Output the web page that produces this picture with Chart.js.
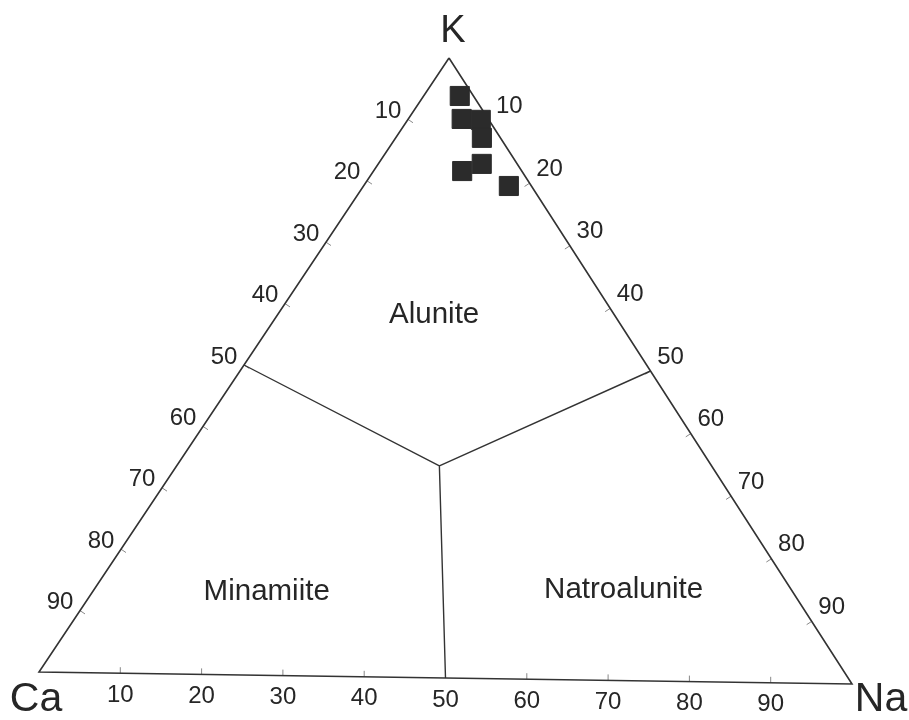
<!DOCTYPE html>
<html>
<head>
<meta charset="utf-8">
<script src="https://cdn.jsdelivr.net/npm/chart.js@4.4.0/dist/chart.umd.min.js"></script>
<style>
html,body{margin:0;padding:0;background:#fff;}
#wrap{width:909px;height:720px;position:relative;}
</style>
</head>
<body>
<div id="wrap"><canvas id="c"></canvas></div>
<script>
// ---- data (percent compositions: Ca, Na, K) ----
const cornerLabels = ['K', 'Ca', 'Na'];
const tickValues = [10, 20, 30, 40, 50, 60, 70, 80, 90];
const tickLabels = ['10', '20', '30', '40', '50', '60', '70', '80', '90'];
const sampleK  = [93.9, 90.2, 90.1, 87.2, 81.8, 83.0, 79.5];
const sampleNa = [4.4, 6.5, 8.9, 10.5, 10.8, 12.6, 17.7];
const sampleCa = [1.7, 3.3, 1.0, 2.3, 7.4, 4.4, 2.8];
// field boundaries: junction and the three edge ends
const junctionCa = 33.8, junctionNa = 32.0, junctionK = 34.2;
const boundaryEndsCa = [50, 0, 50];
const boundaryEndsNa = [0, 50, 50];
const boundaryEndsK  = [50, 50, 0];
const fieldNames = ['Alunite', 'Minamiite', 'Natroalunite'];
const fieldCa = [22.4, 65.3, 20.8];
const fieldNa = [19.1, 21.2, 64.5];
const fieldK  = [58.5, 13.5, 14.7];

// ---- layout (vertex placement in the drawing frame) ----
const VK = {x: 449, y: 58}, VCa = {x: 39, y: 672}, VNa = {x: 852, y: 684};
function toXY(ca, na, k) {
  const s = ca + na + k;
  return {
    x: (ca * VCa.x + na * VNa.x + k * VK.x) / s,
    y: (ca * VCa.y + na * VNa.y + k * VK.y) / s
  };
}

const samplePts = sampleK.map((k, i) => toXY(sampleCa[i], sampleNa[i], k));
const triangle = [toXY(0, 0, 100), toXY(100, 0, 0), toXY(0, 100, 0), toXY(0, 0, 100)];
const junction = toXY(junctionCa, junctionNa, junctionK);
const boundaryData = [];
boundaryEndsK.forEach((k, i) => {
  boundaryData.push(toXY(boundaryEndsCa[i], boundaryEndsNa[i], k));
  boundaryData.push(junction);
  boundaryData.push({x: null, y: null});
});

function unit(dx, dy) { const l = Math.hypot(dx, dy); return {x: dx / l, y: dy / l}; }
const edges = [
  {comp: v => [v, 0, 100 - v], n: unit(VCa.y - VK.y, -(VCa.x - VK.x)), off: {x: -20, y: -8}},
  {comp: v => [0, v, 100 - v], n: unit(-(VNa.y - VK.y), VNa.x - VK.x), off: {x: 20, y: -14}},
  {comp: v => [100 - v, v, 0], n: {x: 0, y: -1}, off: {x: 0, y: 22}}
];
const tickData = [];
const tickTexts = [];
edges.forEach(e => {
  tickValues.forEach((v, i) => {
    const c = e.comp(v);
    const p = toXY(c[0], c[1], c[2]);
    tickData.push(p);
    tickData.push({x: p.x + e.n.x * 6, y: p.y + e.n.y * 6});
    tickData.push({x: null, y: null});
    tickTexts.push({x: p.x + e.off.x, y: p.y + e.off.y, t: tickLabels[i]});
  });
});

const textPlugin = {
  id: 'ternaryText',
  afterDatasetsDraw(chart) {
    const ctx = chart.ctx, xs = chart.scales.x, ys = chart.scales.y;
    ctx.save();
    ctx.fillStyle = '#262626';
    ctx.textAlign = 'center';
    ctx.textBaseline = 'middle';
    ctx.font = '24px "Liberation Sans", Arial, sans-serif';
    tickTexts.forEach(t => ctx.fillText(t.t, xs.getPixelForValue(t.x), ys.getPixelForValue(t.y)));
    ctx.font = '29.5px "Liberation Sans", Arial, sans-serif';
    fieldNames.forEach((n, i) => {
      const p = toXY(fieldCa[i], fieldNa[i], fieldK[i]);
      ctx.fillText(n, xs.getPixelForValue(p.x), ys.getPixelForValue(p.y));
    });
    ctx.font = '38px "Liberation Sans", Arial, sans-serif';
    const kp = toXY(0, 0, 100), cp = toXY(100, 0, 0), np = toXY(0, 100, 0);
    ctx.fillText(cornerLabels[0], xs.getPixelForValue(kp.x + 4), ys.getPixelForValue(kp.y - 26));
    ctx.font = '41px "Liberation Sans", Arial, sans-serif';
    ctx.fillText(cornerLabels[1], xs.getPixelForValue(cp.x - 3), ys.getPixelForValue(cp.y + 28));
    ctx.fillText(cornerLabels[2], xs.getPixelForValue(np.x + 29), ys.getPixelForValue(np.y + 16));
    ctx.restore();
  }
};

new Chart(document.getElementById('c'), {
  type: 'scatter',
  data: {
    datasets: [
      {label: 'edges', data: triangle, showLine: true, borderColor: '#333', borderWidth: 1.6, pointRadius: 0, fill: false, order: 3},
      {label: 'boundaries', data: boundaryData, showLine: true, spanGaps: false, borderColor: '#333', borderWidth: 1.4, pointRadius: 0, order: 3},
      {label: 'ticks', data: tickData, showLine: true, spanGaps: false, borderColor: '#888', borderWidth: 1, pointRadius: 0, order: 3},
      {label: 'samples', data: samplePts, showLine: false, pointStyle: 'rect', pointRadius: 13.5, pointHoverRadius: 13.5,
       backgroundColor: '#2b2b2b', borderColor: '#2b2b2b', borderWidth: 1, order: 1}
    ]
  },
  options: {
    responsive: true,
    maintainAspectRatio: false,
    animation: false,
    layout: {padding: 0, autoPadding: false},
    plugins: {legend: {display: false}, tooltip: {enabled: false}},
    scales: {
      x: {type: 'linear', min: 0, max: 909, display: false},
      y: {type: 'linear', min: 0, max: 720, reverse: true, display: false}
    }
  },
  plugins: [textPlugin]
});
</script>
</body>
</html>
